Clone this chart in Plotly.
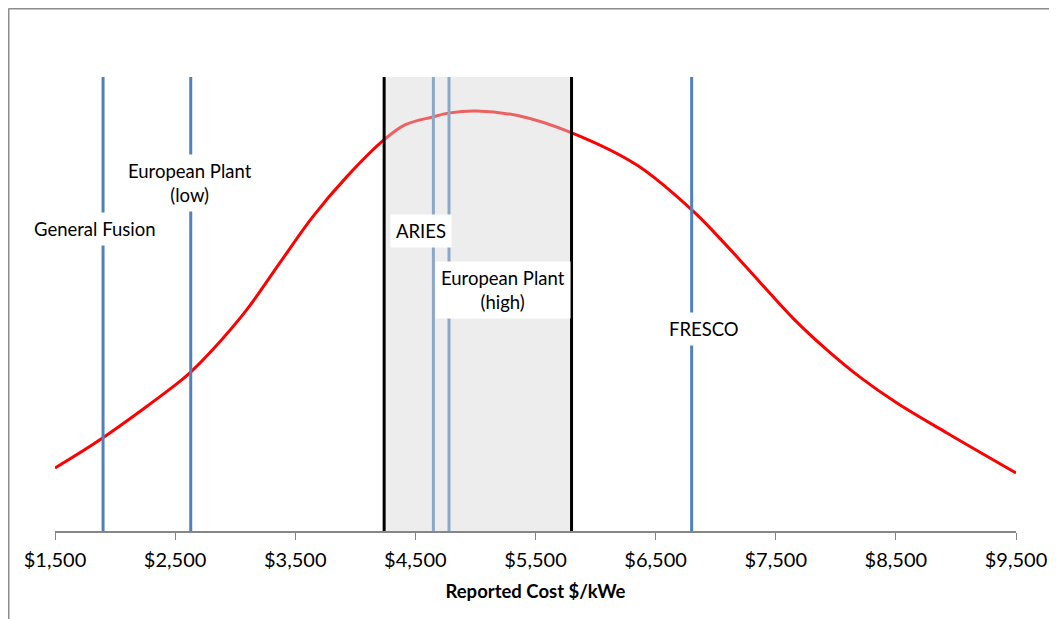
import plotly.graph_objects as go

# ---- data ----
curve_x = [1500, 1896, 2537, 2634, 2812, 3095, 3370, 3645, 3928, 4245, 4417, 4644,
           4786, 5011, 5369, 5802, 6344, 6810, 7093, 7368, 7643, 7926, 8201, 8509,
           8925, 9500]
curve_y = [0.139, 0.205, 0.329, 0.351, 0.399, 0.487, 0.590, 0.692, 0.780, 0.863,
           0.895, 0.912, 0.921, 0.925, 0.914, 0.877, 0.806, 0.705, 0.628, 0.548,
           0.469, 0.399, 0.339, 0.282, 0.216, 0.128]

plant_names = ["General Fusion", "European Plant<br>(low)", "ARIES",
               "European Plant<br>(high)", "FRESCO"]
plant_costs = [1900, 2630, 4650, 4780, 6800]
label_x = [1830, 2620, 4550, 5230, 6900]
label_y = [0.665, 0.766, 0.660, 0.531, 0.445]

band_low, band_high = 4240, 5800

tick_vals = [1500, 2500, 3500, 4500, 5500, 6500, 7500, 8500, 9500]
tick_text = ["$1,500", "$2,500", "$3,500", "$4,500", "$5,500", "$6,500",
             "$7,500", "$8,500", "$9,500"]

FONT = "Lato"

fig = go.Figure()
fig.add_trace(go.Scatter(x=curve_x, y=curve_y, mode="lines",
                         line=dict(color="#FF0000", width=3, shape="spline", smoothing=1.0),
                         hoverinfo="skip", showlegend=False))

shapes = []
for c in plant_costs:
    shapes.append(dict(type="line", xref="x", yref="y", x0=c, x1=c, y0=0, y1=1,
                       line=dict(color="#4F81BD", width=3), layer="above"))
shapes.append(dict(type="rect", xref="x", yref="y", x0=band_low, x1=band_high, y0=0, y1=1,
                   fillcolor="rgba(215,215,215,0.45)", line=dict(width=0), layer="above"))
for c in (band_low, band_high):
    shapes.append(dict(type="line", xref="x", yref="y", x0=c, x1=c, y0=0, y1=1,
                       line=dict(color="#000000", width=3), layer="above"))
# outer chart border (top and left)
shapes.append(dict(type="line", xref="paper", yref="paper", x0=-0.0484, x1=1.2,
                   y0=1.1509, y1=1.1509, line=dict(color="#8C8C8C", width=2)))
shapes.append(dict(type="line", xref="paper", yref="paper", x0=-0.0484, x1=-0.0484,
                   y0=1.1509, y1=-0.3, line=dict(color="#8C8C8C", width=2)))

annotations = []
for name, lx, ly in zip(plant_names, label_x, label_y):
    annotations.append(dict(x=lx, y=ly, xref="x", yref="y", text=name, showarrow=False,
                            bgcolor="#FFFFFF", borderpad=5,
                            font=dict(family=FONT, size=18.5, color="#000000")))

fig.update_layout(
    width=1049, height=611,
    margin=dict(l=47, r=41, t=69, b=88, autoexpand=False),
    paper_bgcolor="#FFFFFF", plot_bgcolor="#FFFFFF",
    shapes=shapes, annotations=annotations,
    showlegend=False,
    xaxis=dict(range=[1500, 9500], tickvals=tick_vals, ticktext=tick_text,
               automargin=False,
               showgrid=False, zeroline=False, showline=True, linecolor="#868686",
               linewidth=1.5, ticks="outside", ticklen=7, tickcolor="#868686",
               tickfont=dict(family=FONT, size=20, color="#000000"),
               ticklabelstandoff=3,
               title=dict(text="<b>Reported Cost $/kWe</b>",
                          font=dict(family=FONT, size=18.5, color="#000000"),
                          standoff=15)),
    yaxis=dict(range=[0, 1], visible=False, showgrid=False, zeroline=False),
)

fig.write_html("out.html")
